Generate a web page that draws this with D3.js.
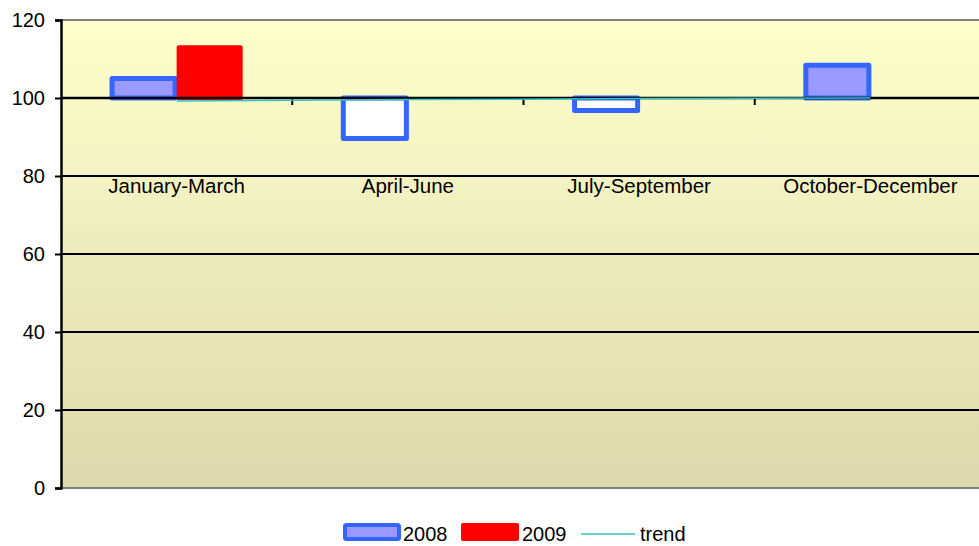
<!DOCTYPE html>
<html>
<head>
<meta charset="utf-8">
<script src="https://cdn.jsdelivr.net/npm/d3@7"></script>
<style>
  html, body { margin: 0; padding: 0; background: #ffffff; }
  svg { display: block; font-family: "Liberation Sans", Arial, sans-serif; }
</style>
</head>
<body>
<svg id="chart" width="979" height="546"></svg>
<script>
// ---- data ----
const categories = ["January-March", "April-June", "July-September", "October-December"];
const series2008 = [105, 89.6, 96.8, 108.4];
const series2009 = [113.5, null, null, null];
const trend = [99.2, 99.6, 99.85, 100];
const yTicks = [0, 20, 40, 60, 80, 100, 120];
const legendLabels = ["2008", "2009", "trend"];

// ---- layout ----
const W = 979, H = 546;
const plot = { left: 61, top: 20, right: 986, bottom: 488 };
const svg = d3.select("#chart");

const y = d3.scaleLinear().domain([0, 120]).range([plot.bottom, plot.top]);
const x0 = d3.scaleBand().domain(categories).range([plot.left, plot.right]).padding(0);
const bw = x0.bandwidth();
const barW = bw / 3.5;
const x1 = d3.scaleBand().domain(["2008", "2009"])
  .range([bw / 2 - barW, bw / 2 + barW]).padding(0);

const defs = svg.append("defs");
const grad = defs.append("linearGradient").attr("id", "bg")
  .attr("x1", 0).attr("y1", 0).attr("x2", 0).attr("y2", 1);
grad.append("stop").attr("offset", "0%").attr("stop-color", "#FFFFCC");
grad.append("stop").attr("offset", "100%").attr("stop-color", "#DCD9AE");
defs.append("clipPath").attr("id", "clip").append("rect")
  .attr("x", plot.left).attr("y", plot.top - 2).attr("width", W - plot.left).attr("height", plot.bottom - plot.top + 4);

// plot background
svg.append("rect").attr("x", plot.left).attr("y", plot.top)
  .attr("width", plot.right - plot.left).attr("height", plot.bottom - plot.top)
  .attr("fill", "url(#bg)");

// border top & bottom (gray)
svg.append("line").attr("x1", plot.left).attr("x2", W).attr("y1", plot.top).attr("y2", plot.top)
  .attr("stroke", "#808080").attr("stroke-width", 2);
svg.append("line").attr("x1", plot.left).attr("x2", W).attr("y1", plot.bottom).attr("y2", plot.bottom)
  .attr("stroke", "#808080").attr("stroke-width", 2);

// gridlines
svg.append("g").selectAll("line").data(yTicks.filter(v => v > 0 && v < 120)).join("line")
  .attr("x1", plot.left).attr("x2", W)
  .attr("y1", d => y(d)).attr("y2", d => y(d))
  .attr("stroke", "#000").attr("stroke-width", 2);

// y axis
const yAxis = svg.append("g").attr("transform", `translate(${plot.left},0)`)
  .call(d3.axisLeft(y).tickValues(yTicks).tickSize(6).tickPadding(10).tickFormat(d3.format("d")));
yAxis.select(".domain").attr("stroke", "#000").attr("stroke-width", 2.5);
yAxis.selectAll(".tick line").attr("stroke", "#000").attr("stroke-width", 2);
yAxis.selectAll(".tick text").attr("font-size", 20).attr("fill", "#000")
  .attr("font-family", "Liberation Sans, Arial, sans-serif");

const g = svg.append("g").attr("clip-path", "url(#clip)");
const base = y(100);

// 2008 bars
const bars08 = categories.map((c, i) => ({ c, v: series2008[i] })).filter(d => d.v != null);
g.selectAll("rect.b08").data(bars08).join("rect").attr("class", "b08")
  .attr("x", d => x0(d.c) + x1("2008") + 1.5)
  .attr("width", x1.bandwidth() - 3)
  .attr("y", d => Math.min(y(d.v), base))
  .attr("height", d => Math.abs(y(d.v) - base))
  .attr("fill", d => d.v >= 100 ? "#9999FF" : "#FFFFFF")
  .attr("stroke", "#3366FF").attr("stroke-width", 5)
  .attr("stroke-linejoin", "round");

// 2009 bars
const bars09 = categories.map((c, i) => ({ c, v: series2009[i] })).filter(d => d.v != null);
g.selectAll("rect.b09").data(bars09).join("rect").attr("class", "b09")
  .attr("x", d => x0(d.c) + x1("2009"))
  .attr("width", x1.bandwidth())
  .attr("y", d => Math.min(y(d.v), base))
  .attr("height", d => Math.abs(y(d.v) - base) + 2)
  .attr("fill", "#FF0000").attr("rx", 2);

// category axis at 100
g.append("line").attr("x1", plot.left).attr("x2", W).attr("y1", base).attr("y2", base)
  .attr("stroke", "#000").attr("stroke-width", 2.5);
g.selectAll("line.ctick").data(categories.slice(1)).join("line").attr("class", "ctick")
  .attr("x1", d => x0(d)).attr("x2", d => x0(d))
  .attr("y1", base).attr("y2", base + 7)
  .attr("stroke", "#000").attr("stroke-width", 2);

// trend line
const line = d3.line().x((d, i) => x0(categories[i]) + bw / 2).y(d => y(d));
g.append("path").datum(trend).attr("d", line)
  .attr("fill", "none").attr("stroke", "#33C4C4").attr("stroke-width", 1.5);

// category labels
svg.append("g").selectAll("text").data(categories).join("text")
  .attr("x", d => x0(d) + bw / 2).attr("y", 193)
  .attr("text-anchor", "middle").attr("font-size", 20.5).attr("fill", "#000")
  .text(d => d);

// legend
const lg = svg.append("g");
lg.append("rect").attr("x", 345).attr("y", 525).attr("width", 54).attr("height", 14)
  .attr("fill", "#9999FF").attr("stroke", "#3366FF").attr("stroke-width", 4).attr("rx", 1.5);
lg.append("text").attr("x", 403).attr("y", 541).attr("font-size", 20).text(legendLabels[0]);
lg.append("rect").attr("x", 461).attr("y", 523).attr("width", 58).attr("height", 18)
  .attr("fill", "#FF0000").attr("rx", 2);
lg.append("text").attr("x", 522).attr("y", 541).attr("font-size", 20).text(legendLabels[1]);
lg.append("line").attr("x1", 581).attr("x2", 635).attr("y1", 534).attr("y2", 534)
  .attr("stroke", "#33C4C4").attr("stroke-width", 1.5);
lg.append("text").attr("x", 640).attr("y", 541).attr("font-size", 20).text(legendLabels[2]);
</script>
</body>
</html>
